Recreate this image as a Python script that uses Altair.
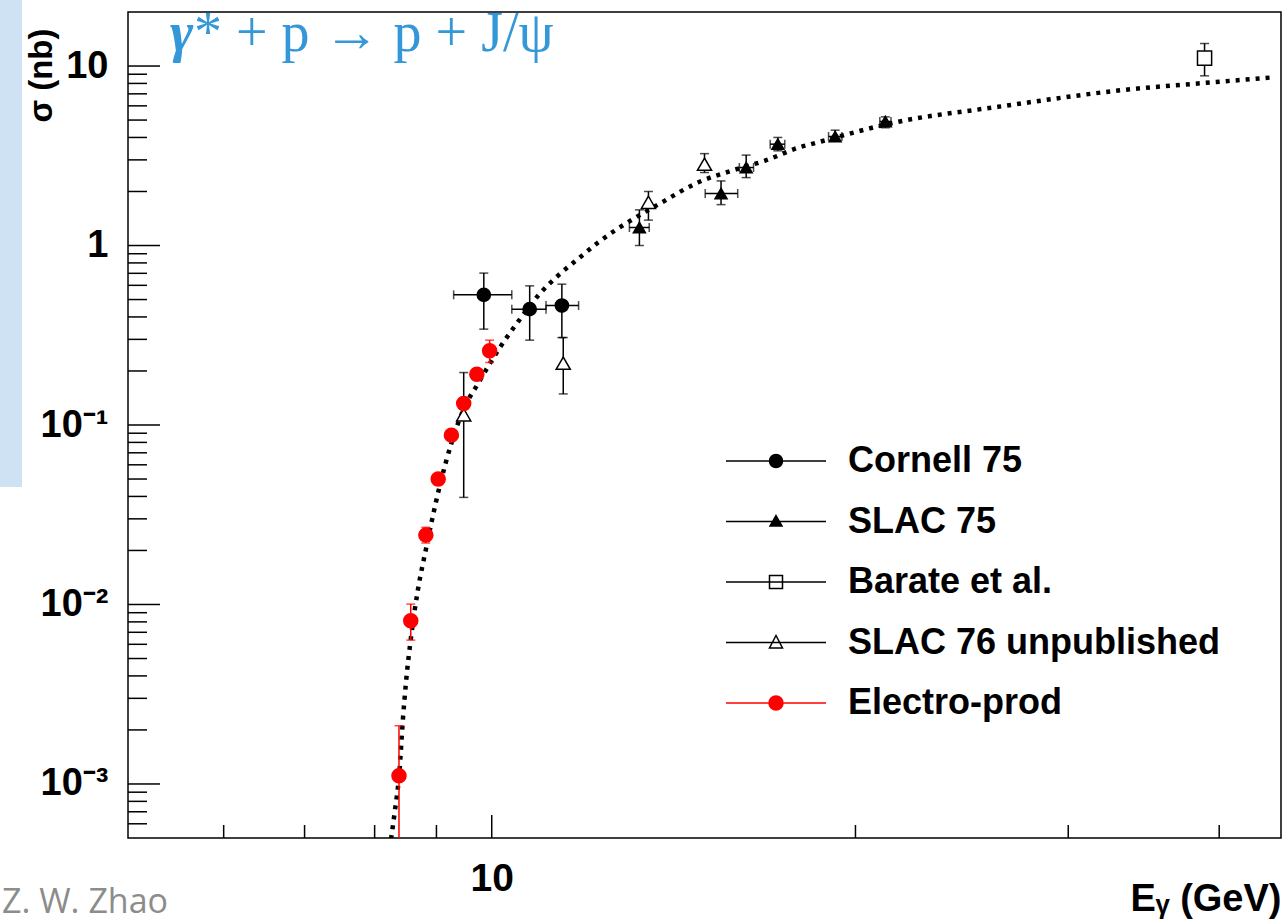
import altair as alt
import pandas as pd

SERIES = ["Cornell 75", "SLAC 75", "Barate et al.", "SLAC 76 unpublished", "Electro-prod"]

# ---- data ----
cornell_E = [9.85, 10.75, 11.43]
cornell_sigma = [0.531, 0.442, 0.463]
cornell_ylo = [0.342, 0.297, 0.307]
cornell_yhi = [0.702, 0.596, 0.609]
cornell_xlo = [9.30, 10.39, 11.09]
cornell_xhi = [10.39, 11.09, 11.80]

slac75_E = [13.25, 15.48, 16.24, 17.25, 19.24, 21.17]
slac75_sigma = [1.26, 1.95, 2.72, 3.67, 4.05, 4.91]
slac75_ylo = [1.00, 1.69, 2.39, 3.37, 3.83, 4.53]
slac75_yhi = [1.58, 2.29, 3.19, 4.00, 4.39, 5.21]
slac75_xlo = [13.00, 15.02, 16.03, 17.00, 19.00, 20.95]
slac75_xhi = [13.50, 15.98, 16.47, 17.48, 19.49, 21.40]

barate_E = [38.9]
barate_sigma = [11.07]
barate_ylo = [8.82]
barate_yhi = [13.35]

slac76_E = [9.48, 11.46, 13.48, 15.00]
slac76_sigma = [0.114, 0.221, 1.74, 2.84]
slac76_ylo = [0.0395, 0.149, 1.385, 2.55]
slac76_yhi = [0.196, 0.307, 2.00, 3.25]

electro_E = [8.38, 8.57, 8.82, 9.03, 9.26, 9.48, 9.72, 9.96]
electro_sigma = [0.00111, 0.00811, 0.02435, 0.0500, 0.0878, 0.1317, 0.192, 0.259]
electro_ylo = [0.0001, 0.00633, 0.0220, 0.0465, 0.0820, 0.1225, 0.179, 0.223]
electro_yhi = [0.00211, 0.01005, 0.0269, 0.0535, 0.0940, 0.1410, 0.205, 0.297]

curve_E = [8.254, 8.308, 8.388, 8.441, 8.495, 8.574, 8.685, 8.822, 9.05, 9.493,
           9.737, 10.179, 10.528, 10.937, 11.341, 11.737, 12.239,
           13.9, 14.81, 15.78, 16.82, 18.03, 18.38, 21.68, 26.24, 33.83,
           38.4, 44.15]
curve_sigma = [0.000493, 0.00068, 0.001184, 0.00225, 0.00376, 0.00655, 0.01192,
               0.02035, 0.04485, 0.1252, 0.169, 0.2762, 0.3805, 0.531, 0.678,
               0.822, 1.035, 1.774, 2.244, 2.607, 2.964, 3.548,
               3.672, 4.888, 5.925, 7.434, 7.991, 8.63]

# axis tick positions
y_major = [0.001, 0.01, 0.1, 1, 10]
y_minor = [0.0006, 0.0007, 0.0008, 0.0009,
           0.002, 0.003, 0.004, 0.005, 0.006, 0.007, 0.008, 0.009,
           0.02, 0.03, 0.04, 0.05, 0.06, 0.07, 0.08, 0.09,
           0.2, 0.3, 0.4, 0.5, 0.6, 0.7, 0.8, 0.9,
           2, 3, 4, 5, 6, 7, 8, 9]
x_major = [10]
x_minor = [6, 7, 8, 9, 20, 30, 40]

REACTION_GAMMA = "γ"
REACTION_REST = "* + p → p + J/ψ"
CREDIT = "Z. W. Zhao"


def frame(name, E, s, lo, hi, xlo=None, xhi=None):
    n = len(E)
    return pd.DataFrame({
        "series": [name] * n, "E": E, "sigma": s, "ylo": lo, "yhi": hi,
        "xlo": xlo if xlo else [None] * n, "xhi": xhi if xhi else [None] * n,
    })


points = pd.concat([
    frame(SERIES[0], cornell_E, cornell_sigma, cornell_ylo, cornell_yhi, cornell_xlo, cornell_xhi),
    frame(SERIES[1], slac75_E, slac75_sigma, slac75_ylo, slac75_yhi, slac75_xlo, slac75_xhi),
    frame(SERIES[2], barate_E, barate_sigma, barate_ylo, barate_yhi),
    frame(SERIES[3], slac76_E, slac76_sigma, slac76_ylo, slac76_yhi),
    frame(SERIES[4], electro_E, electro_sigma, electro_ylo, electro_yhi),
], ignore_index=True)
xerr = pd.concat([
    frame(SERIES[0], cornell_E, cornell_sigma, cornell_ylo, cornell_yhi, cornell_xlo, cornell_xhi),
    frame(SERIES[1], slac75_E, slac75_sigma, slac75_ylo, slac75_yhi, slac75_xlo, slac75_xhi),
], ignore_index=True)
curve = pd.DataFrame({"E": curve_E, "sigma": curve_sigma})

W, H = 1153, 826
FONT = "Liberation Sans"

xscale = alt.Scale(type="log", domain=[5, 45], nice=False)
yscale = alt.Scale(type="log", domain=[0.0005, 20], nice=False)

xaxis = alt.Axis(values=[10], labelExpr="'10'", ticks=False, tickSize=0, domain=False,
                 grid=False, labelPadding=21, labelFont=FONT, labelFontSize=39,
                 labelFontWeight="bold", labelColor="black",
                 title="Eᵧ (GeV)", titleFont=FONT, titleFontSize=38, titleFontWeight="bold",
                 titleColor="black", titleAlign="right", titleX=W, titleY=72,
                 titleBaseline="alphabetic")
yaxis = alt.Axis(values=y_major,
                 labelExpr="datum.value > 5 ? '10' : datum.value > 0.5 ? '1' : "
                           "datum.value > 0.05 ? '10⁻¹' : datum.value > 0.005 ? '10⁻²' : '10⁻³'",
                 ticks=False, tickSize=0, domain=False, grid=False, labelPadding=20,
                 labelFont=FONT, labelFontSize=38, labelFontWeight="bold", labelColor="black",
                 title="σ (nb)", titleFont=FONT, titleFontSize=33, titleFontWeight="bold",
                 titleColor="black", titleAngle=270, titleX=-87, titleY=16,
                 titleAlign="right", titleBaseline="middle")

stroke_scale = alt.Scale(domain=SERIES, range=["black", "black", "black", "black", "#ff0000"])
fill_scale = alt.Scale(domain=SERIES, range=["black", "black", "white", "white", "#ff0000"])
shape_scale = alt.Scale(domain=SERIES, range=["circle", "triangle-up", "square", "triangle-up", "circle"])

# legend symbol: a 100 px line with the marker in its middle (unit = 30 px)
U = 30.0
L = 50.0 / U


def px(v):
    return round(v / U, 4)


def circ(r):
    r = px(r)
    return f"M{-L:.4f},0H{L:.4f}M{r},0A{r},{r},0,1,1,{-r},0A{r},{r},0,1,1,{r},0Z"


def tri(h, w, b):
    h, w, b = px(h), px(w), px(b)
    return f"M{-L:.4f},0H{L:.4f}M0,{-h}L{w},{b}L{-w},{b}Z"


def sq(a):
    a = px(a)
    return f"M{-L:.4f},0H{L:.4f}M{-a},{-a}H{a}V{a}H{-a}Z"


legend_shape_scale = alt.Scale(domain=SERIES, range=[circ(6.5), tri(6, 6, 4.5), sq(6.5),
                                                      tri(7, 6.5, 5.5), circ(7)])

X = alt.X("E:Q", scale=xscale, axis=xaxis)

band = alt.Chart(pd.DataFrame({"k": [0]})).mark_rect(color="#cfe2f3").encode(
    x=alt.value(-128), x2=alt.value(-106), y=alt.value(-12), y2=alt.value(475))

curve_layer = alt.Chart(curve).mark_line(color="black", strokeWidth=4.5, strokeDash=[4, 6],
                                         clip=True, interpolate="monotone").encode(
    x=X, y=alt.Y("sigma:Q", scale=yscale, axis=yaxis), order="E:Q")

verr = alt.Chart(points).mark_rule(strokeWidth=1.5, clip=True).encode(
    x=X, y=alt.Y("ylo:Q", scale=yscale, axis=yaxis), y2="yhi:Q",
    stroke=alt.Stroke("series:N", scale=stroke_scale, legend=None))

cap_lo = alt.Chart(points).mark_tick(orient="horizontal", size=9, thickness=1.5, clip=True).encode(
    x=X, y=alt.Y("ylo:Q", scale=yscale, axis=yaxis),
    color=alt.Color("series:N", scale=stroke_scale, legend=None))
cap_hi = alt.Chart(points).mark_tick(orient="horizontal", size=9, thickness=1.5, clip=True).encode(
    x=X, y=alt.Y("yhi:Q", scale=yscale, axis=yaxis),
    color=alt.Color("series:N", scale=stroke_scale, legend=None))

herr = alt.Chart(xerr).mark_rule(strokeWidth=1.5, clip=True).encode(
    x=alt.X("xlo:Q", scale=xscale, axis=xaxis), x2="xhi:Q",
    y=alt.Y("sigma:Q", scale=yscale, axis=yaxis),
    stroke=alt.Stroke("series:N", scale=stroke_scale, legend=None))
hcap_lo = alt.Chart(xerr).mark_tick(orient="vertical", size=9, thickness=1.5, clip=True).encode(
    x=alt.X("xlo:Q", scale=xscale, axis=xaxis), y=alt.Y("sigma:Q", scale=yscale, axis=yaxis),
    color=alt.Color("series:N", scale=stroke_scale, legend=None))
hcap_hi = alt.Chart(xerr).mark_tick(orient="vertical", size=9, thickness=1.5, clip=True).encode(
    x=alt.X("xhi:Q", scale=xscale, axis=xaxis), y=alt.Y("sigma:Q", scale=yscale, axis=yaxis),
    color=alt.Color("series:N", scale=stroke_scale, legend=None))

size_rule = (alt.when(alt.datum.series == "Electro-prod").then(alt.value(196))
             .when(alt.datum.series == "Barate et al.").then(alt.value(200))
             .when(alt.datum.series == "SLAC 76 unpublished").then(alt.value(200))
             .when(alt.datum.series == "Cornell 75").then(alt.value(175))
             .otherwise(alt.value(144)))

pts = alt.Chart(points).mark_point(strokeWidth=1.5, opacity=1, clip=True).encode(
    x=X, y=alt.Y("sigma:Q", scale=yscale, axis=yaxis),
    shape=alt.Shape("series:N", scale=shape_scale, legend=None),
    fill=alt.Fill("series:N", scale=fill_scale, legend=None),
    stroke=alt.Stroke("series:N", scale=stroke_scale, legend=None),
    size=size_rule)

leg = alt.Legend(title=None, orient="none", legendX=617, legendY=418, symbolSize=int(4 * U * U),
                 symbolStrokeWidth=1.5, symbolOpacity=1, labelFont=FONT, labelFontSize=36,
                 labelFontWeight="bold", labelColor="black", labelOffset=41, labelLimit=0,
                 rowPadding=11.5, padding=0)

carrier = alt.Chart(points).mark_point(opacity=0, size=10).encode(
    x=X, y=alt.Y("sigma:Q", scale=yscale, axis=yaxis),
    shape=alt.Shape("series:N", scale=legend_shape_scale, legend=leg),
    fill=alt.Fill("series:N", scale=fill_scale, legend=leg),
    stroke=alt.Stroke("series:N", scale=stroke_scale, legend=leg))

yt_major = alt.Chart(pd.DataFrame({"t": y_major})).mark_rule(color="black", strokeWidth=1.5).encode(
    y=alt.Y("t:Q", scale=yscale, axis=yaxis), x=alt.value(0), x2=alt.value(32))
yt_minor = alt.Chart(pd.DataFrame({"t": y_minor})).mark_rule(color="black", strokeWidth=1.5).encode(
    y=alt.Y("t:Q", scale=yscale, axis=yaxis), x=alt.value(0), x2=alt.value(19))
xt_major = alt.Chart(pd.DataFrame({"t": x_major})).mark_rule(color="black", strokeWidth=1.5).encode(
    x=alt.X("t:Q", scale=xscale, axis=xaxis), y=alt.value(H), y2=alt.value(H - 23))
xt_minor = alt.Chart(pd.DataFrame({"t": x_minor})).mark_rule(color="black", strokeWidth=1.5).encode(
    x=alt.X("t:Q", scale=xscale, axis=xaxis), y=alt.value(H), y2=alt.value(H - 13))

BLUE = "#3498d8"
title_gamma = alt.Chart(pd.DataFrame({"label": [REACTION_GAMMA]})).mark_text(
    align="left", baseline="alphabetic", font="Liberation Serif", fontSize=56,
    fontStyle="italic", fontWeight="bold", color=BLUE).encode(
    x=alt.value(42), y=alt.value(39), text="label:N")
title_rest = alt.Chart(pd.DataFrame({"label": [REACTION_REST]})).mark_text(
    align="left", baseline="alphabetic", font="Liberation Serif", fontSize=56,
    color=BLUE).encode(x=alt.value(66), y=alt.value(39), text="label:N")

credit = alt.Chart(pd.DataFrame({"label": [CREDIT]})).mark_text(
    align="left", baseline="alphabetic", font="Open Sans", fontSize=34,
    color="#8c8c8c").encode(x=alt.value(-126), y=alt.value(901), text="label:N")

chart = alt.layer(
    band, curve_layer, verr, cap_lo, cap_hi, herr, hcap_lo, hcap_hi, pts, carrier,
    yt_major, yt_minor, xt_major, xt_minor, title_gamma, title_rest, credit
).resolve_scale(
    shape="independent", fill="independent", stroke="independent"
).properties(
    width=W, height=H,
    autosize=alt.AutoSizeParams(type="none"),
    padding={"left": 128, "top": 12, "right": 6, "bottom": 86},
).configure(background="white").configure_view(stroke="black", strokeWidth=1.5)

chart.save("out.html", embed_options={"renderer": "svg", "actions": False})
